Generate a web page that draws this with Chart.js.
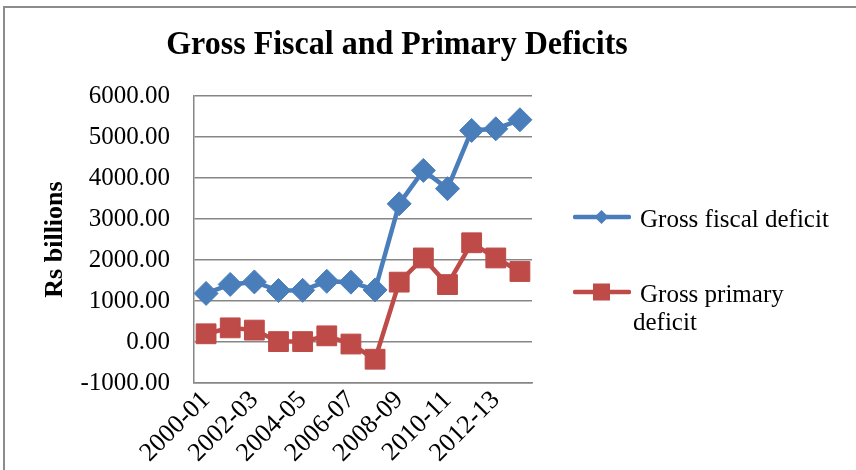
<!DOCTYPE html>
<html>
<head>
<meta charset="utf-8">
<script src="https://cdn.jsdelivr.net/npm/chart.js@4"></script>
<style>
  body { margin: 0; background: #fff; }
  #wrap { position: relative; width: 856px; height: 470px; overflow: hidden; font-family: "Liberation Serif", "Times New Roman", serif; }
  .frame { position: absolute; left: 3px; top: 6px; width: 900px; height: 500px; border-left: 2px solid #8c8c8c; border-top: 2px solid #8c8c8c; }
  canvas { position: absolute; left: 0; top: 0; }
  .title { position: absolute; left: 0; top: 27px; width: 794px; text-align: center; font-size: 32px; line-height: 31px; font-weight: bold; color: #000; transform: scaleY(1.08); }
  .leg { position: absolute; font-size: 25px; color: #000; }
  .leg svg { position: absolute; }
</style>
</head>
<body>
<div id="wrap">
  <div class="frame"></div>
  <canvas id="myChart" width="856" height="470"></canvas>
  <div class="title">Gross Fiscal and Primary Deficits</div>
  <div class="legend"></div>
</div>
<script>
const ctx = document.getElementById('myChart');

const years = ['2000-01', '2001-02', '2002-03', '2003-04', '2004-05', '2005-06', '2006-07',
  '2007-08', '2008-09', '2009-10', '2010-11', '2011-12', '2012-13', '2013-14'];
const grossFiscal = [1185, 1405, 1465, 1255, 1260, 1480, 1460, 1270, 3370, 4185, 3740, 5160, 5200, 5420];
const grossPrimary = [200, 345, 290, 10, 10, 150, -50, -420, 1460, 2050, 1400, 2420, 2050, 1720];
const yTicks = [-1000, 0, 1000, 2000, 3000, 4000, 5000, 6000];

const blue = '#4a7ebb';
const red = '#be4b48';
const serif = '"Liberation Serif", "Times New Roman", serif';

let datosFiscal = {
  label: 'Gross fiscal deficit',
  data: grossFiscal,
  borderColor: blue,
  backgroundColor: blue,
  borderWidth: 4.5,
  pointStyle: 'rectRot',
  pointRadius: 12,
  pointBorderWidth: 1,
  tension: 0,
};

let datosPrimary = {
  label: 'Gross primary deficit',
  data: grossPrimary,
  borderColor: red,
  backgroundColor: red,
  borderWidth: 4.5,
  pointStyle: 'rect',
  pointRadius: 14,
  pointBorderWidth: 1,
  tension: 0,
};

const graph = new Chart(ctx, {
  type: 'line',
  data: {
    labels: years,
    datasets: [datosFiscal, datosPrimary],
  },
  options: {
    responsive: false,
    animation: false,
    layout: { padding: { left: 36, right: 324, top: 96, bottom: 0 } },
    plugins: {
      legend: { display: false },
      tooltip: { enabled: false },
    },
    scales: {
      x: {
        offset: true,
        grid: { display: false, drawTicks: false },
        border: { display: true, color: '#868686', width: 1.5 },
        ticks: {
          autoSkip: false,
          minRotation: 45,
          maxRotation: 45,
          padding: 2,
          color: '#000',
          font: { family: serif, size: 26 },
          callback: function (val, i) { return i % 2 === 0 ? this.getLabelForValue(val) : ''; },
        },
        afterFit: (scale) => { scale.height = 87; },
      },
      y: {
        min: -1000,
        max: 6000,
        grid: { color: '#868686', lineWidth: 1.5, drawTicks: false },
        border: { display: true, color: '#868686', width: 1.5 },
        afterBuildTicks: (scale) => { scale.ticks = yTicks.map(v => ({ value: v })); },
        ticks: {
          padding: 24,
          color: '#000',
          font: { family: serif, size: 25 },
          callback: (v) => Number(v).toFixed(2),
        },
        title: {
          display: true,
          text: 'Rs billions',
          color: '#000',
          font: { family: serif, size: 26, weight: 'bold' },
        },
        afterFit: (scale) => { scale.width = 158; },
      },
    },
  },
});

// legend on the right, built from the datasets
function icon(color, style) {
  let marker = style === 'rect'
    ? `<rect x="20" y="1.5" width="17" height="17" fill="${color}"/>`
    : `<polygon points="28.5,3 35.5,10 28.5,17 21.5,10" fill="${color}"/>`;
  return `<svg width="58" height="20"><line x1="2" y1="10" x2="56" y2="10" stroke="${color}" stroke-width="4.5" stroke-linecap="round"/>${marker}</svg>`;
}

const legendBox = document.querySelector('.legend');
legendBox.innerHTML =
  `<div class="leg" style="left:573px;top:207px;">${icon(blue, 'rectRot')}</div>` +
  `<div class="leg" style="left:640px;top:204px;line-height:30px;white-space:nowrap;">${datosFiscal.label}</div>` +
  `<div class="leg" style="left:573px;top:282px;">${icon(red, 'rect')}</div>` +
  `<div class="leg" style="left:633px;top:280px;line-height:28px;width:190px;text-indent:7px;">${datosPrimary.label}</div>`;
</script>
</body>
</html>
